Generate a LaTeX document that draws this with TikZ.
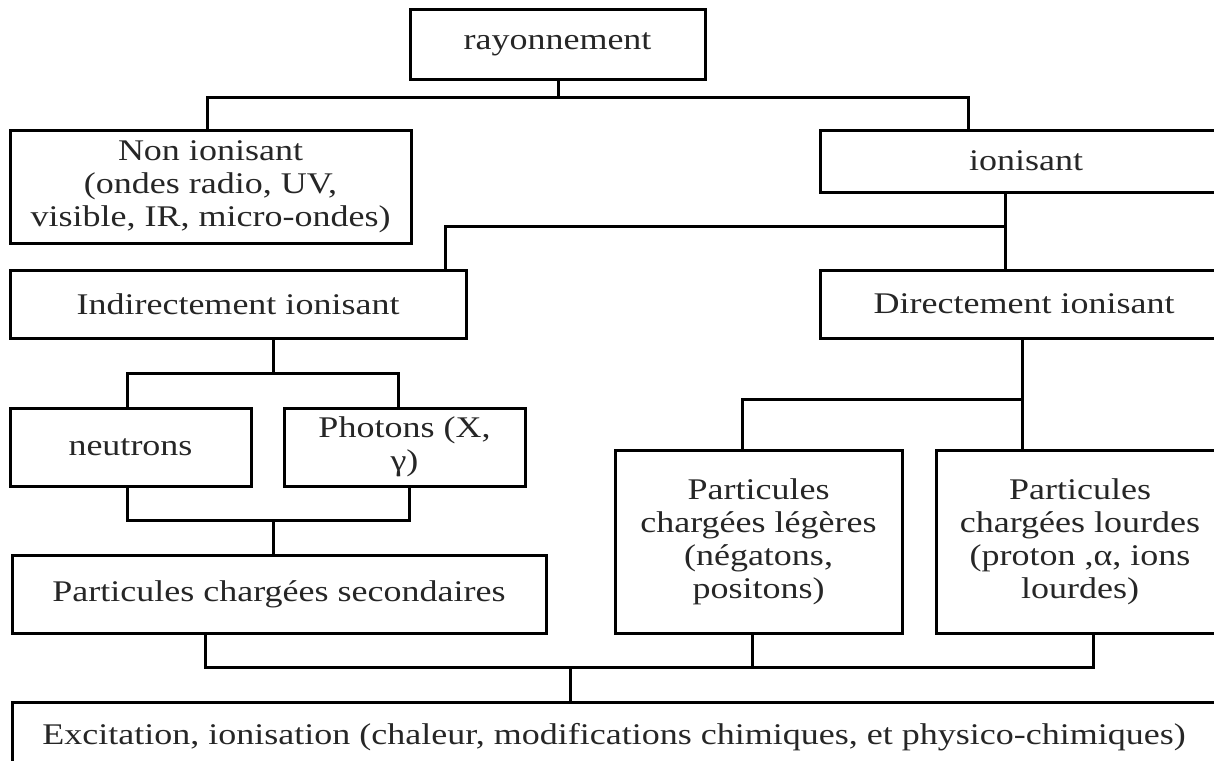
\documentclass[tikz,border=0pt]{standalone}
\usepackage{fontspec}
\setmainfont{Liberation Serif}[FakeStretch=1.2]
\begin{document}
\begin{tikzpicture}[x=0.5pt,y=-0.5pt,
  box/.style={draw=black, line width=1.5pt, inner sep=0pt, align=center,
    font=\fontsize{15}{16.5}\selectfont, text=black!85},
  link/.style={draw=black, line width=1.5pt}]
\useasboundingbox (0,0) rectangle (1214,760);
\clip (0,0) rectangle (1214,760);
% boxes
\node[box, minimum width=147.5pt, minimum height=35pt] (ray) at (557.5,44) {rayonnement};
\node[box, minimum width=200.5pt, minimum height=56.5pt] (nonion) at (210.5,186.5) {Non ionisant\\(ondes radio, UV,\\visible, IR, micro-ondes)};
\node[box, minimum width=206pt, minimum height=31pt] (ion) at (1026,161) {ionisant};
\node[box, minimum width=228pt, minimum height=34pt] (indir) at (238,304) {Indirectement ionisant};
\node[box, minimum width=204pt, minimum height=34pt] (dir) at (1024,304) {Directement ionisant};
\node[box, minimum width=120.5pt, minimum height=39pt] (neut) at (130.5,447) {neutrons};
\node[box, minimum width=120.5pt, minimum height=39pt] (phot) at (404.5,447) {Photons (X,\\γ)};
\node[box, minimum width=267pt, minimum height=39pt] (sec) at (279,594) {Particules chargées secondaires};
\node[box, minimum width=143.5pt, minimum height=91.5pt] (leg) at (758.5,541.5) {Particules\\chargées légères\\(négatons,\\positons)};
\node[box, minimum width=144pt, minimum height=91.5pt] (lourd) at (1080,541.5) {Particules\\chargées lourdes\\(proton ,α, ions\\lourdes)};
\node[box, minimum width=602pt, minimum height=35pt] (exc) at (614,737) {Excitation, ionisation (chaleur, modifications chimiques, et physico-chimiques)};
% connectors
\coordinate (j1) at (558,97);
\draw[link] (ray.south -| j1) -- (j1);
\draw[link] (nonion.north -| 207,0) |- (j1) -| (ion.north -| 968,0);
\coordinate (j2) at (1005,226);
\draw[link] (ion.south -| j2) -- (dir.north -| j2);
\draw[link] (j2) -| (indir.north -| 445,0);
\coordinate (j3) at (273,373);
\draw[link] (indir.south -| j3) -- (j3);
\draw[link] (neut.north -| 127,0) |- (j3) -| (phot.north -| 398,0);
\coordinate (j4) at (273,520);
\draw[link] (neut.south -| 127,0) |- (j4) -| (phot.south -| 409,0);
\draw[link] (j4) -- (sec.north -| j4);
\coordinate (j5) at (1022,399);
\draw[link] (dir.south -| j5) -- (lourd.north -| j5);
\draw[link] (j5) -| (leg.north -| 742,0);
\coordinate (j6) at (570,667);
\draw[link] (sec.south -| 205,0) |- (j6) -| (lourd.south -| 1093,0);
\draw[link] (leg.south -| 752,0) -- (752,667);
\draw[link] (j6) -- (exc.north -| j6);
\end{tikzpicture}
\end{document}
